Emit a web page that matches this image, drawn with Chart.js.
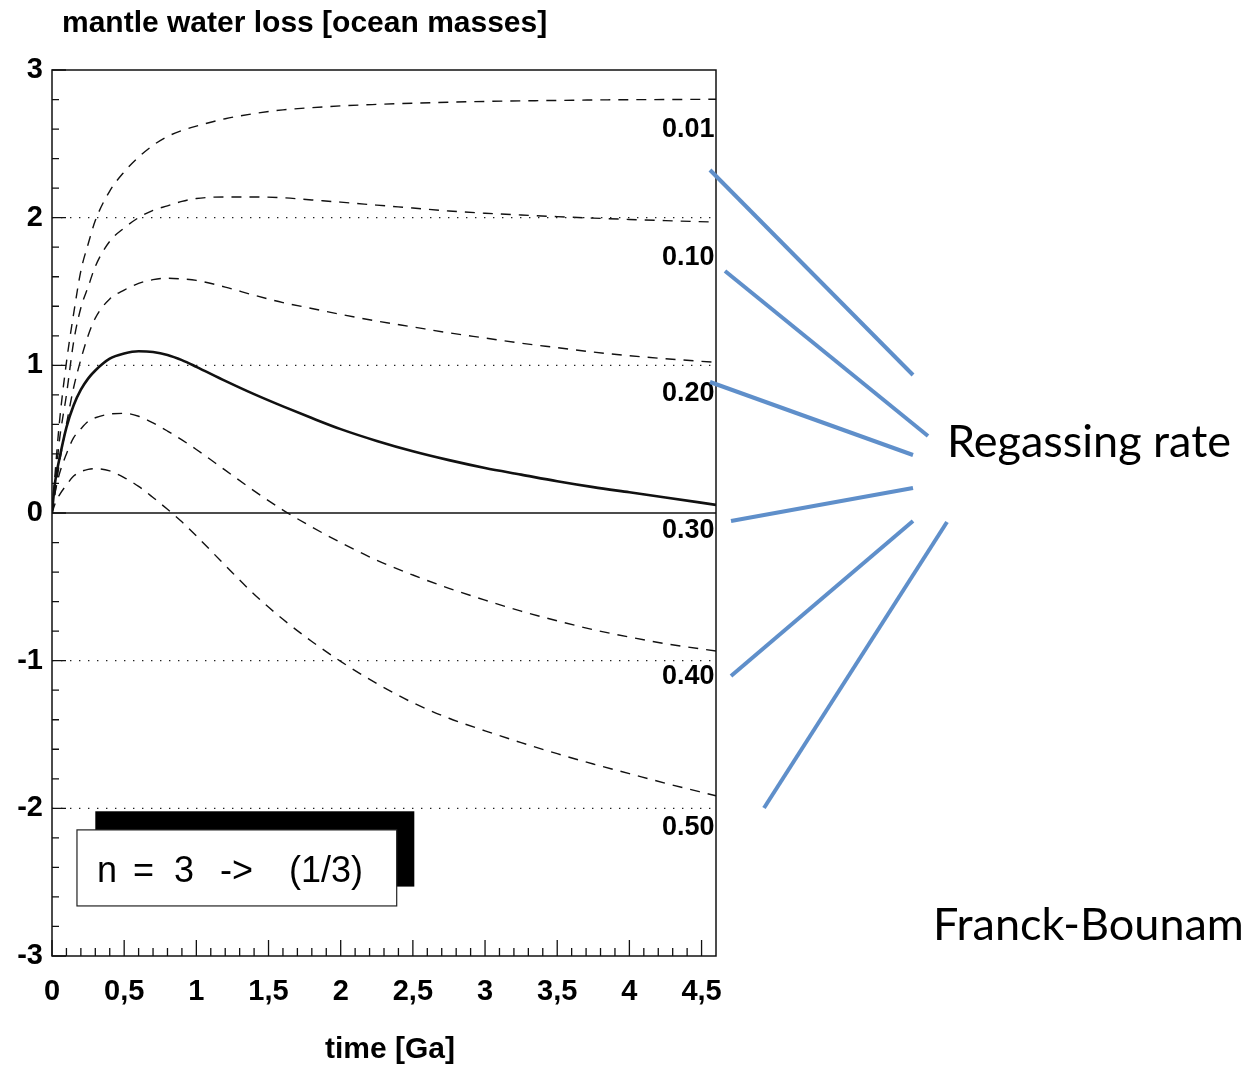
<!DOCTYPE html>
<html>
<head>
<meta charset="utf-8">
<script src="https://cdn.jsdelivr.net/npm/chart.js@4.4.1/dist/chart.umd.min.js"></script>
<style>
  body { margin: 0; background: #fff; }
  #wrap { width: 1244px; height: 1069px; position: relative; }
</style>
</head>
<body>
<div id="wrap"><canvas id="water_loss"></canvas></div>
<script>
// time [Ga]
const times = [0, 0.02, 0.05, 0.1, 0.15, 0.2, 0.25, 0.3, 0.4, 0.5, 0.6, 0.7, 0.8, 0.9, 1.0,
               1.2, 1.4, 1.6, 1.8, 2.0, 2.25, 2.5, 2.75, 3.0, 3.25, 3.5, 3.75, 4.0, 4.25, 4.6];

// mantle water loss [ocean masses] for each regassing rate
const rate001 = [0, 0.25, 0.6, 1.02, 1.35, 1.64, 1.82, 1.98, 2.18, 2.31, 2.41, 2.49, 2.55, 2.59, 2.62,
                 2.67, 2.705, 2.73, 2.745, 2.757, 2.767, 2.775, 2.782, 2.787, 2.791, 2.794, 2.797, 2.799, 2.80, 2.802];
const rate010 = [0, 0.18, 0.48, 0.8, 1.16, 1.39, 1.53, 1.67, 1.84, 1.93, 2.00, 2.05, 2.08, 2.11, 2.13,
                 2.14, 2.14, 2.135, 2.12, 2.105, 2.085, 2.065, 2.045, 2.03, 2.018, 2.007, 1.997, 1.988, 1.98, 1.97];
const rate020 = [0, 0.13, 0.33, 0.6, 0.85, 1.04, 1.2, 1.32, 1.45, 1.51, 1.555, 1.58, 1.59, 1.585, 1.575,
                 1.53, 1.475, 1.425, 1.385, 1.345, 1.30, 1.26, 1.22, 1.185, 1.15, 1.12, 1.09, 1.065, 1.045, 1.02];
const rate030 = [0, 0.2, 0.36, 0.58, 0.73, 0.835, 0.91, 0.965, 1.045, 1.08, 1.095, 1.09, 1.07, 1.035, 0.99,
                 0.895, 0.805, 0.722, 0.643, 0.568, 0.488, 0.418, 0.358, 0.305, 0.26, 0.215, 0.175, 0.14, 0.105, 0.055];
const rate040 = [0, 0.13, 0.26, 0.40, 0.51, 0.57, 0.62, 0.645, 0.67, 0.675, 0.655, 0.61, 0.555, 0.495, 0.43,
                 0.29, 0.15, 0.02, -0.095, -0.20, -0.32, -0.42, -0.51, -0.59, -0.665, -0.73, -0.79, -0.84, -0.885, -0.935];
const rate050 = [0, 0.06, 0.12, 0.19, 0.25, 0.28, 0.295, 0.30, 0.285, 0.24, 0.18, 0.105, 0.025, -0.06, -0.155,
                 -0.355, -0.55, -0.72, -0.87, -1.005, -1.155, -1.285, -1.39, -1.475, -1.555, -1.63, -1.70, -1.765, -1.83, -1.915];

const rateNames = ['0.01', '0.10', '0.20', '0.30', '0.40', '0.50'];
const refLevels = [2, 1, -1, -2];

const FONT = '"Liberation Sans", Arial, Helvetica, sans-serif';

function pts(ys) {
    return times.map((t, i) => ({x: t, y: ys[i]}));
}

function curve(ys, solid) {
    return {
        data: pts(ys),
        borderColor: '#111',
        borderWidth: solid ? 2.6 : 1.4,
        borderDash: solid ? [] : [10, 8],
        pointRadius: 0,
        cubicInterpolationMode: 'monotone',
        fill: false
    };
}

let datasets = [];
// horizontal guide lines
refLevels.forEach(v => {
    datasets.push({
        data: [{x: 0, y: v}, {x: 4.6, y: v}],
        borderColor: '#222', borderWidth: 1.4, borderDash: [1.4, 7.6],
        pointRadius: 0, tension: 0
    });
});
datasets.push({
    data: [{x: 0, y: 0}, {x: 4.6, y: 0}],
    borderColor: '#111', borderWidth: 1.4, pointRadius: 0, tension: 0
});
[rate001, rate010, rate020, rate030, rate040, rate050].forEach((ys, i) => {
    datasets.push(curve(ys, i === 3));
});

// text, ticks, frame and the little "n = 3" box
const decorations = {
    id: 'decorations',
    afterDatasetsDraw(chart) {
        const ctx = chart.ctx;
        const a = chart.chartArea;
        const xs = chart.scales.x, ys = chart.scales.y;
        ctx.save();

        // inward ticks
        ctx.strokeStyle = '#111';
        ctx.lineWidth = 1.3;
        ctx.beginPath();
        for (let i = 0; i <= 45; i++) {
            const px = xs.getPixelForValue(i / 10);
            const len = i % 5 === 0 ? 16 : 8;
            ctx.moveTo(px, a.bottom);
            ctx.lineTo(px, a.bottom - len);
        }
        for (let i = -15; i <= 15; i++) {
            const py = ys.getPixelForValue(i / 5);
            const len = i % 5 === 0 ? 14 : 7;
            ctx.moveTo(a.left, py);
            ctx.lineTo(a.left + len, py);
        }
        ctx.stroke();

        // curve names along the right edge
        const labelAt = [2.60, 1.73, 0.81, -0.12, -1.11, -2.13];
        ctx.fillStyle = '#000';
        ctx.font = 'bold 27px ' + FONT;
        ctx.textAlign = 'left';
        ctx.textBaseline = 'middle';
        rateNames.forEach((name, i) => {
            ctx.fillText(name, a.right - 54, ys.getPixelForValue(labelAt[i]));
        });

        // box with shadow
        const sx0 = xs.getPixelForValue(0.30), sx1 = xs.getPixelForValue(2.51);
        const sy0 = ys.getPixelForValue(-2.02), sy1 = ys.getPixelForValue(-2.53);
        ctx.fillStyle = '#000';
        ctx.fillRect(sx0, sy0, sx1 - sx0, sy1 - sy0);
        const bx0 = xs.getPixelForValue(0.173), bx1 = xs.getPixelForValue(2.388);
        const by0 = ys.getPixelForValue(-2.146), by1 = ys.getPixelForValue(-2.661);
        ctx.fillStyle = '#fff';
        ctx.fillRect(bx0, by0, bx1 - bx0, by1 - by0);
        ctx.strokeStyle = '#222';
        ctx.lineWidth = 1.2;
        ctx.strokeRect(bx0, by0, bx1 - bx0, by1 - by0);
        ctx.fillStyle = '#000';
        ctx.font = '36px ' + FONT;
        ctx.textAlign = 'left';
        const ty = (by0 + by1) / 2 + 4;
        [['n', 97], ['=', 133], ['3', 174], ['->', 220], ['(1/3)', 289]].forEach(p => {
            ctx.fillText(p[0], p[1], ty);
        });

        // frame
        ctx.strokeStyle = '#111';
        ctx.lineWidth = 1.5;
        ctx.strokeRect(a.left, a.top, a.right - a.left, a.bottom - a.top);

        // titles
        ctx.font = 'bold 30px ' + FONT;
        ctx.textAlign = 'left';
        ctx.textBaseline = 'alphabetic';
        ctx.fillText('mantle water loss [ocean masses]', 62, 32);
        ctx.textAlign = 'center';
        ctx.textBaseline = 'middle';
        ctx.fillText('time [Ga]', (a.left + a.right) / 2 + 6, 1050);

        // side notes
        ctx.strokeStyle = '#5f8fca';
        ctx.lineWidth = 4;
        ctx.lineCap = 'butt';
        const pointers = [
            [710, 170, 913, 375], [725, 271, 928, 436], [710, 382, 913, 455],
            [731, 521, 913, 488], [731, 676, 913, 521], [764, 808, 947, 522]
        ];
        pointers.forEach(l => {
            ctx.beginPath();
            ctx.moveTo(l[0], l[1]);
            ctx.lineTo(l[2], l[3]);
            ctx.stroke();
        });
        ctx.fillStyle = '#000';
        ctx.font = '45px Lato, "Open Sans", sans-serif';
        ctx.textAlign = 'left';
        ctx.fillText('Regassing rate', 947, 442);
        ctx.fillText('Franck-Bounam', 933, 925);

        ctx.restore();
    }
};

const isMultiple = (v, step) => Math.abs(v / step - Math.round(v / step)) < 1e-6;

const ctx = document.getElementById('water_loss').getContext('2d');
const myChart = new Chart(ctx, {
    type: 'line',
    data: { datasets: datasets },
    options: {
        responsive: true,
        maintainAspectRatio: false,
        animation: false,
        events: [],
        layout: { padding: { left: 0, top: 70, right: 528, bottom: 0 } },
        plugins: { legend: { display: false }, tooltip: { enabled: false } },
        scales: {
            x: {
                type: 'linear',
                min: 0, max: 4.6,
                grid: { display: false, drawTicks: false },
                border: { display: false },
                afterFit: s => { s.height = 113; },
                ticks: {
                    stepSize: 0.1,
                    autoSkip: false,
                    maxRotation: 0,
                    padding: 19,
                    color: '#000',
                    font: { family: FONT, size: 29, weight: 'bold' },
                    callback: v => isMultiple(v, 0.5) && v < 4.55 ? String(Math.round(v * 10) / 10).replace('.', ',') : ''
                }
            },
            y: {
                min: -3, max: 3,
                grid: { display: false, drawTicks: false },
                border: { display: false },
                afterFit: s => { s.width = 52; },
                ticks: {
                    stepSize: 0.2,
                    autoSkip: false,
                    padding: 9,
                    color: '#000',
                    font: { family: FONT, size: 29, weight: 'bold' },
                    callback: v => isMultiple(v, 1) ? String(Math.round(v)) : ''
                }
            }
        }
    },
    plugins: [decorations]
});
</script>
</body>
</html>
